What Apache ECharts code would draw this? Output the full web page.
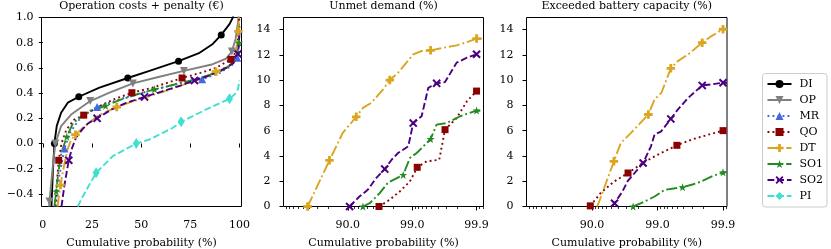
<!DOCTYPE html>
<html><head><meta charset="utf-8">
<script src="https://cdn.jsdelivr.net/npm/echarts@6/dist/echarts.min.js"></script>
<style>html,body{margin:0;padding:0;background:#fff}#c{width:831px;height:249px}</style>
</head><body><div id="c"></div>
<script>
// ---------- DATA ----------
const methods = ['DI','OP','MR','QO','DT','SO1','SO2','PI'];
const titles = ['Operation costs + penalty (\u20ac)', 'Unmet demand (%)', 'Exceeded battery capacity (%)'];
const xName = 'Cumulative probability (%)';

// Panel 1 ticks
const costXTicks = [0, 25, 50, 75, 100];
const costYTicks = [-0.4, -0.2, 0.0, 0.2, 0.4, 0.6, 0.8, 1.0];
// Panels 2 & 3 ticks (cumulative probability, %)
const probTicks = [90, 99, 99.9];
const probTickLabels = ['90.0', '99.0', '99.9'];
const pctYTicks = [0, 2, 4, 6, 8, 10, 12, 14];

// Panel 1: [cumulative probability %, cost]
const costDI = [[4.4,-0.5],[5.1,-0.23],[5.9,0.0],[7.1,0.14],[9.3,0.244],[12.7,0.324],[18.3,0.371],[28.8,0.443],[43.2,0.52],[54.2,0.576],[69.0,0.653],[79.7,0.72],[86.4,0.79],[90.7,0.862],[94.9,0.947],[96.6,1.0],[98.3,1.09]];
const costDI_mk = [2,6,8,10,13];
const costOP = [[3.2,-0.5],[3.4,-0.46],[5.1,-0.18],[6.4,0.0],[9.3,0.138],[14.4,0.23],[24.1,0.337],[33.9,0.403],[45.8,0.477],[59.3,0.53],[71.7,0.576],[86.4,0.629],[93.2,0.674],[96.1,0.73],[98.0,0.83],[99.2,0.96],[99.7,1.04]];
const costOP_mk = [1,3,6,8,10,13];
const costMR = [[6.8,-0.5],[8.5,-0.25],[11.0,-0.04],[14.0,0.09],[18.0,0.18],[22.0,0.24],[27.6,0.29],[35.0,0.33],[45.0,0.38],[55.0,0.42],[65.0,0.46],[72.0,0.49],[81.0,0.51],[90.0,0.56],[96.0,0.62],[98.8,0.68],[100,0.8]];
const costMR_mk = [2,6,12,15];
const costQO = [[6.3,-0.5],[7.2,-0.3],[8.1,-0.133],[9.5,0.0],[12.0,0.11],[16.0,0.19],[20.8,0.225],[28.0,0.29],[36.0,0.35],[45.3,0.403],[55.0,0.44],[63.0,0.48],[70.8,0.52],[80.0,0.56],[88.0,0.6],[95.6,0.668],[98.3,0.73],[99.4,0.85],[99.9,1.0]];
const costQO_mk = [2,6,9,12,15];
const costDT = [[7.5,-0.5],[9.0,-0.33],[10.5,-0.2],[12.5,-0.05],[14.4,0.03],[16.6,0.07],[20.0,0.12],[28.0,0.22],[37.6,0.29],[45.0,0.33],[55.0,0.38],[63.0,0.42],[72.0,0.47],[80.0,0.51],[88.0,0.57],[95.0,0.62],[98.0,0.7],[99.4,0.89],[99.8,1.0]];
const costDT_mk = [1,5,8,14,17];
const costSO1 = [[5.9,-0.5],[6.8,-0.38],[8.0,-0.22],[9.5,-0.07],[12.2,0.053],[15.3,0.16],[20.0,0.22],[25.0,0.26],[31.9,0.30],[40.0,0.35],[48.0,0.39],[56.8,0.43],[65.0,0.46],[73.0,0.49],[82.0,0.53],[90.0,0.57],[95.5,0.62],[98.5,0.7],[99.7,0.80],[100,0.95]];
const costSO1_mk = [1,4,8,11,18];
const costSO2 = [[9.5,-0.5],[11.0,-0.33],[13.2,-0.133],[15.0,-0.03],[17.0,0.05],[20.0,0.11],[23.0,0.16],[27.6,0.2],[35.0,0.27],[42.0,0.32],[51.7,0.37],[60.0,0.41],[70.0,0.46],[77.1,0.50],[85.0,0.54],[93.0,0.6],[97.0,0.64],[99.2,0.71],[99.7,0.8],[100,0.9]];
const costSO2_mk = [2,7,10,13,17];
const costPI = [[17.8,-0.5],[20.3,-0.42],[27.1,-0.233],[35.6,-0.1],[47.5,0.0],[54.2,0.032],[61.0,0.085],[66.1,0.125],[70.3,0.172],[83.0,0.27],[94.9,0.355],[97.5,0.39],[99.2,0.43],[100,0.5]];
const costPI_mk = [2,4,8,10];

// Panel 2: [cumulative probability %, unmet demand %]
const unmetDT = [[57.8,0],[80.7,3.65],[88.0,5.82],[92.59,7.09],[94.17,7.8],[95.69,8.2],[97.16,9.26],[97.77,10.0],[98.34,10.58],[98.77,11.38],[99.036,12.04],[99.286,12.3],[99.482,12.35],[99.628,12.5],[99.796,12.75],[99.859,13.0],[99.9,13.28],[99.922,13.28]];
const unmetDT_mk = [0,1,3,7,12,16];
const unmetSO2 = [[90.6,0],[93.39,0.79],[95.10,1.32],[96.37,2.25],[97.33,2.96],[97.91,3.7],[98.34,4.23],[98.85,4.76],[99.036,6.6],[99.286,7.14],[99.438,9.39],[99.583,9.74],[99.691,9.84],[99.796,11.38],[99.859,11.77],[99.9,12.04]];
const unmetSO2_mk = [0,4,8,11,15];
const unmetSO1 = [[94.17,0],[95.43,0.26],[96.80,1.06],[97.63,1.9],[98.62,2.5],[98.914,3.84],[99.149,4.23],[99.482,5.34],[99.583,6.48],[99.709,6.6],[99.82,7.14],[99.9,7.59],[99.922,7.54]];
const unmetSO1_mk = [0,4,7,11];
const unmetQO = [[96.72,0],[97.76,0.53],[98.44,1.19],[98.914,1.98],[99.164,3.1],[99.403,3.57],[99.62,3.7],[99.691,6.08],[99.796,7.0],[99.859,8.33],[99.9,9.13]];
const unmetQO_mk = [0,4,7,10];

// Panel 3: [cumulative probability %, exceeded battery capacity %]
const excDT = [[91.63,0],[92.41,0.53],[94.11,2.1],[95.37,3.57],[96.37,5.03],[97.46,5.82],[98.62,7.28],[98.89,8.47],[99.129,9.0],[99.373,10.93],[99.51,11.5],[99.661,12.04],[99.792,12.96],[99.852,13.5],[99.9,14.02],[99.913,14.02]];
const excDT_mk = [3,6,9,12,14];
const excSO2 = [[95.0,0],[95.47,0.26],[96.57,1.19],[97.12,1.98],[98.34,3.44],[98.74,4.76],[98.89,5.69],[99.123,5.95],[99.373,6.93],[99.51,7.67],[99.661,8.6],[99.792,9.58],[99.852,9.66],[99.9,9.79],[99.913,9.79]];
const excSO2_mk = [1,4,8,11,13];
const excQO = [[89.38,0.05],[92.59,1.06],[95.40,1.98],[97.18,2.65],[98.32,3.44],[99.011,4.1],[99.494,4.84],[99.698,5.29],[99.834,5.69],[99.9,6.0],[99.913,6.0]];
const excQO_mk = [0,3,6,9];
const excSO1 = [[97.64,0],[98.22,0.26],[98.89,0.79],[99.224,1.32],[99.586,1.53],[99.698,1.72],[99.786,1.98],[99.852,2.38],[99.9,2.7],[99.913,2.7]];
const excSO1_mk = [0,4,8];

// axis extents (probability %)
const unmetPMax = 99.922;
const excPMax = 99.913;

// ---------- STYLE ----------
const FONT = 'DejaVu Serif';
const STYLE = {
  DI:  {color:'#000000', symbol:'circle', size:7, dash:'solid', width:1.9},
  OP:  {color:'#808080', symbol:'triangle', rotate:180, size:8, dash:'solid', width:1.9},
  MR:  {color:'#4169e1', symbol:'triangle', size:8, dash:[1.9,3.1], width:1.9},
  QO:  {color:'#8b0000', symbol:'rect', size:7, dash:[1.9,3.1], width:1.9},
  DT:  {color:'#daa520', symbol:'path://M3,0H6V3H9V6H6V9H3V6H0V3H3Z', size:8.5, dash:[11,2.9,1.9,2.9], width:1.9},
  SO1: {color:'#228b22', symbol:'path://M5,0L6.18,3.38L9.76,3.45L6.9,5.62L7.94,9.05L5,7L2.06,9.05L3.1,5.62L0.24,3.45L3.82,3.38Z', size:8, dash:[11,2.9,1.9,2.9], width:1.9},
  SO2: {color:'#4b0082', symbol:'path://M1.5,0L4.5,3L7.5,0L9,1.5L6,4.5L9,7.5L7.5,9L4.5,6L1.5,9L0,7.5L3,4.5L0,1.5Z', size:8.5, dash:[6.8,2.9], width:1.9},
  PI:  {color:'#40e0d0', symbol:'diamond', size:[7,11], dash:[6.8,2.9], width:1.9}
};

function toT(p) { return -Math.log10(1 - p / 100); }

function mkSeries(name, pts, marks, axisIdx, logit) {
  const st = STYLE[name];
  return {
    type: 'line', name: name, xAxisIndex: axisIdx, yAxisIndex: axisIdx,
    data: pts.map((d, i) => {
      const v = [logit ? toT(d[0]) : d[0], d[1]];
      return marks.indexOf(i) >= 0 ? {value: v} : {value: v, symbol: 'none'};
    }),
    symbol: st.symbol, symbolSize: st.size, symbolRotate: st.rotate || 0,
    showSymbol: true, showAllSymbol: true, clip: true, smooth: false,
    lineStyle: {color: st.color, width: st.width, type: st.dash, cap: 'butt'},
    itemStyle: {color: st.color},
    emphasis: {disabled: true}
  };
}

const G = [
  {left: 41.5, top: 17.5, width: 200, height: 189},
  {left: 283.5, top: 17.5, width: 200, height: 189},
  {left: 526.5, top: 17.5, width: 200.5, height: 189}
];

const textBase = {fontFamily: FONT, fontSize: 11, color: '#000'};

function minorTs(pmax) {
  const tmax = toT(pmax), out = [];
  for (let d = 0; d < 4; d++) for (let m = 2; m <= 9; m++) {
    const t = d + 1 - Math.log10(m);
    if (t > 0 && t <= tmax) out.push(t);
  }
  return out;
}

function probLabel(v) {
  for (let i = 0; i < probTicks.length; i++) if (Math.abs(toT(probTicks[i]) - v) < 1e-6) return probTickLabels[i];
  return '';
}

const XM = 13, NG = 31;
const xAxes = [
  {gridIndex: 0, type: 'value', min: -0.66, max: 101.0,
   name: xName, nameLocation: 'middle', nameGap: NG, nameTextStyle: textBase,
   axisLine: {show: false}, splitLine: {show: false},
   axisTick: {show: true, length: 4, customValues: costXTicks, lineStyle: {color: '#000', width: 1}},
   axisLabel: {customValues: costXTicks, margin: XM, ...textBase}},
  {gridIndex: 1, type: 'value', min: 0, max: toT(unmetPMax),
   name: xName, nameLocation: 'middle', nameGap: NG, nameTextStyle: textBase,
   axisLine: {show: false}, splitLine: {show: false},
   axisTick: {show: true, length: 4, customValues: probTicks.map(toT), lineStyle: {color: '#000', width: 1}},
   axisLabel: {customValues: probTicks.map(toT), formatter: probLabel, margin: XM, ...textBase}},
  {gridIndex: 2, type: 'value', min: 0, max: toT(excPMax),
   name: xName, nameLocation: 'middle', nameGap: NG, nameTextStyle: textBase,
   axisLine: {show: false}, splitLine: {show: false},
   axisTick: {show: true, length: 4, customValues: probTicks.map(toT), lineStyle: {color: '#000', width: 1}},
   axisLabel: {customValues: probTicks.map(toT), formatter: probLabel, margin: XM, ...textBase}},
  // minor ticks
  {gridIndex: 1, type: 'value', min: 0, max: toT(unmetPMax), position: 'bottom',
   axisLine: {show: false}, splitLine: {show: false}, axisLabel: {show: false},
   axisTick: {show: true, length: 2.5, customValues: minorTs(unmetPMax), lineStyle: {color: '#000', width: 0.8}}},
  {gridIndex: 2, type: 'value', min: 0, max: toT(excPMax), position: 'bottom',
   axisLine: {show: false}, splitLine: {show: false}, axisLabel: {show: false},
   axisTick: {show: true, length: 2.5, customValues: minorTs(excPMax), lineStyle: {color: '#000', width: 0.8}}}
];

function costLabel(v) { return (v < -1e-9 ? '\u2212' : '') + Math.abs(v).toFixed(1); }

const yAxes = [
  {gridIndex: 0, type: 'value', min: -0.5, max: 1.0,
   axisLine: {show: false}, splitLine: {show: false},
   axisTick: {show: true, length: 4, customValues: costYTicks, lineStyle: {color: '#000', width: 1}},
   axisLabel: {customValues: costYTicks, formatter: costLabel, margin: 8, ...textBase}},
  {gridIndex: 1, type: 'value', min: 0, max: 14.95,
   axisLine: {show: false}, splitLine: {show: false},
   axisTick: {show: true, length: 4, customValues: pctYTicks, lineStyle: {color: '#000', width: 1}},
   axisLabel: {customValues: pctYTicks, margin: 13, ...textBase}},
  {gridIndex: 2, type: 'value', min: 0, max: 14.95,
   axisLine: {show: false}, splitLine: {show: false},
   axisTick: {show: true, length: 4, customValues: pctYTicks, lineStyle: {color: '#000', width: 1}},
   axisLabel: {customValues: pctYTicks, margin: 13, ...textBase}}
];

const series = [
  mkSeries('DI', costDI, costDI_mk, 0, false),
  mkSeries('OP', costOP, costOP_mk, 0, false),
  mkSeries('MR', costMR, costMR_mk, 0, false),
  mkSeries('QO', costQO, costQO_mk, 0, false),
  mkSeries('DT', costDT, costDT_mk, 0, false),
  mkSeries('SO1', costSO1, costSO1_mk, 0, false),
  mkSeries('SO2', costSO2, costSO2_mk, 0, false),
  mkSeries('PI', costPI, costPI_mk, 0, false),
  mkSeries('QO', unmetQO, unmetQO_mk, 1, true),
  mkSeries('DT', unmetDT, unmetDT_mk, 1, true),
  mkSeries('SO1', unmetSO1, unmetSO1_mk, 1, true),
  mkSeries('SO2', unmetSO2, unmetSO2_mk, 1, true),
  mkSeries('QO', excQO, excQO_mk, 2, true),
  mkSeries('DT', excDT, excDT_mk, 2, true),
  mkSeries('SO1', excSO1, excSO1_mk, 2, true),
  mkSeries('SO2', excSO2, excSO2_mk, 2, true)
];

const titleCenters = G.map(g => g.left + g.width / 2);

const option = {
  animation: false,
  backgroundColor: '#fff',
  title: titles.map((t, i) => ({text: t, left: titleCenters[i], top: 1, textAlign: 'center', padding: 0,
    textStyle: {fontFamily: FONT, fontSize: 11, fontWeight: 'normal', color: '#000'}})),
  grid: G.map(g => ({...g, show: true, borderColor: '#000', borderWidth: 1, backgroundColor: 'transparent',
    containLabel: false, outerBoundsMode: 'none'})),
  xAxis: xAxes,
  yAxis: yAxes,
  legend: {
    data: methods, orient: 'vertical', left: 762.5, top: 73.5,
    itemWidth: 24, itemHeight: 10, itemGap: 3, padding: [4, 4, 4.5, 4],
    borderColor: '#cccccc', borderWidth: 1, borderRadius: 3, backgroundColor: '#fff',
    selectedMode: false,
    textStyle: {fontFamily: FONT, fontSize: 11, color: '#000', lineHeight: 13, padding: [0, 0, 0, 3]}
  },
  series: series
};

const chart = echarts.init(document.getElementById('c'), null, {renderer: 'canvas'});
chart.setOption(option);
</script>
</body></html>
